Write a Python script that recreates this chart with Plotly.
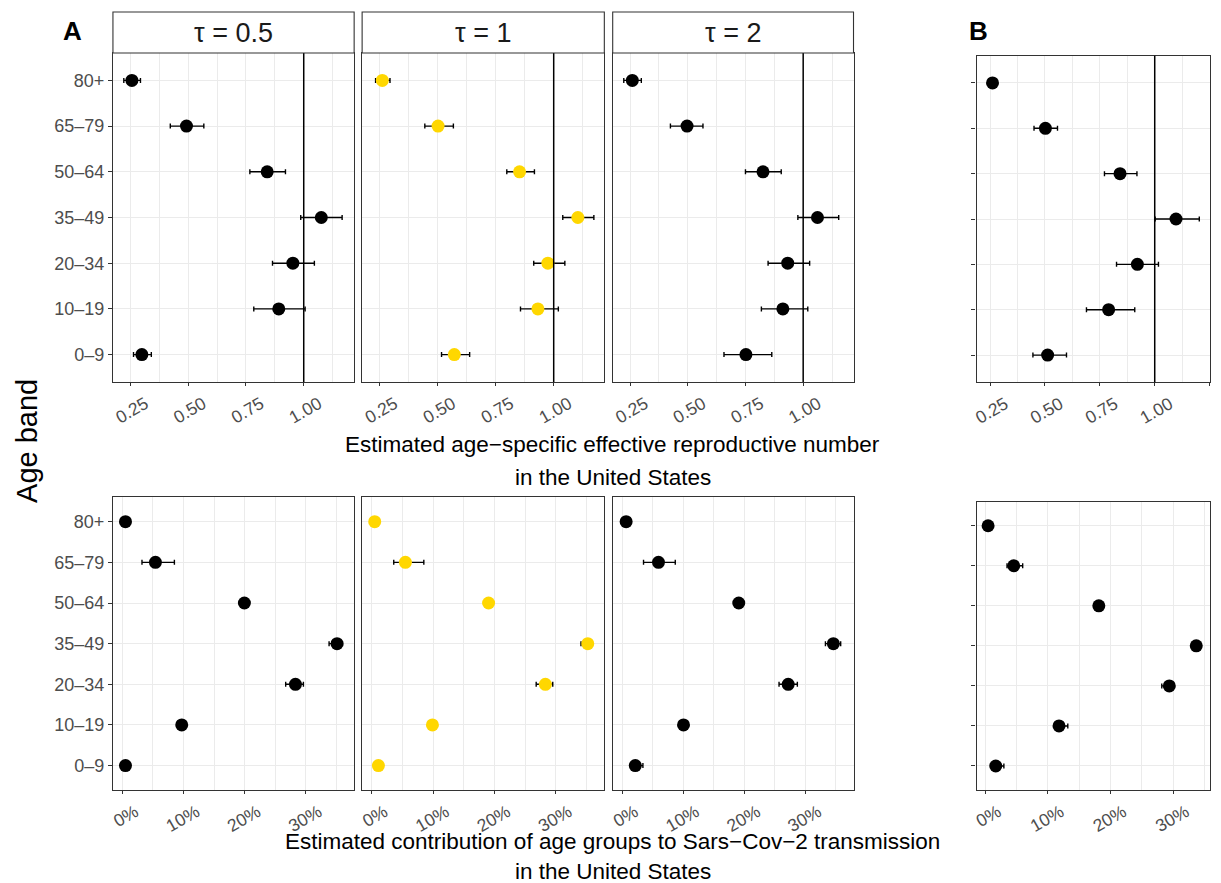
import plotly.graph_objects as go

# ---------------- data ----------------
age_bands = ["0–9", "10–19", "20–34", "35–49", "50–64", "65–79", "80+"]
tau_labels = ["τ = 0.5", "τ = 1", "τ = 2"]

# Panel A, top: age-specific effective reproductive number
tau05_r = [0.300, 0.892, 0.953, 1.076, 0.842, 0.493, 0.257]
tau05_r_lo = [0.264, 0.784, 0.865, 0.987, 0.767, 0.423, 0.222]
tau05_r_hi = [0.341, 1.006, 1.046, 1.166, 0.921, 0.568, 0.294]

tau1_r = [0.572, 0.932, 0.975, 1.104, 0.853, 0.502, 0.262]
tau1_r_lo = [0.517, 0.857, 0.914, 1.039, 0.798, 0.445, 0.233]
tau1_r_hi = [0.638, 1.020, 1.048, 1.173, 0.917, 0.568, 0.295]

tau2_r = [0.752, 0.912, 0.933, 1.062, 0.826, 0.497, 0.260]
tau2_r_lo = [0.657, 0.819, 0.848, 0.977, 0.750, 0.425, 0.223]
tau2_r_hi = [0.864, 1.020, 1.028, 1.154, 0.905, 0.566, 0.299]

# Panel B, top
b_r = [0.512, 0.790, 0.921, 1.097, 0.842, 0.502, 0.261]
b_r_lo = [0.445, 0.689, 0.826, 1.002, 0.771, 0.450, 0.250]
b_r_hi = [0.598, 0.909, 1.017, 1.203, 0.919, 0.557, 0.270]

# Bottom: contribution to transmission (%)
tau05_c = [0.5, 9.7, 28.3, 35.1, 19.95, 5.4, 0.5]
tau05_c_lo = [0.3, 9.5, 26.7, 33.8, 19.8, 3.2, 0.3]
tau05_c_hi = [0.7, 9.9, 29.6, 36.0, 20.1, 8.5, 0.7]

tau1_c = [1.1, 9.9, 28.3, 35.2, 19.05, 5.5, 0.5]
tau1_c_lo = [0.9, 9.7, 26.8, 34.1, 18.9, 3.6, 0.3]
tau1_c_hi = [1.3, 10.1, 29.5, 35.6, 19.2, 8.5, 0.7]

tau2_c = [2.15, 10.05, 27.2, 34.6, 19.1, 5.95, 0.65]
tau2_c_lo = [1.5, 9.9, 25.7, 33.3, 18.9, 3.5, 0.45]
tau2_c_hi = [3.4, 10.2, 28.7, 35.8, 19.3, 8.7, 0.85]

b_c = [1.7, 11.8, 29.4, 33.7, 18.15, 4.57, 0.48]
b_c_lo = [1.1, 11.3, 28.2, 33.5, 18.0, 3.5, 0.4]
b_c_hi = [3.0, 13.2, 29.8, 33.9, 18.3, 6.0, 0.55]

r_ticks = [0.25, 0.50, 0.75, 1.00, 1.25]
r_ticktext = ["0.25", "0.50", "0.75", "1.00", "1.25"]
c_ticks = [0, 10, 20, 30]
c_ticktext = ["0%", "10%", "20%", "30%"]

# ---------------- layout geometry ----------------
W, H = 1221, 883
FONT = "Liberation Sans, Arial, sans-serif"
BLACK = "#000000"
GOLD = "#FFD700"
GRID = "#EBEBEB"
BORDER = "#333333"
TICKCOL = "#4D4D4D"


def xd(a, b):
    return [a / W, b / W]


def yd(top, bot):
    return [1 - bot / H, 1 - top / H]


col_px = [(109.3, 351.3), (359.3, 602.3), (610.7, 852.3), (975.7, 1210.0)]
top_px = [(53, 382), (53, 382), (53, 382), (55.7, 382.3)]
bot_px = [(497.3, 790), (497.3, 790), (497.3, 790), (501.7, 790)]

panels = [
    # (values, lo, hi, color, row)
    (tau05_r, tau05_r_lo, tau05_r_hi, BLACK, "top"),
    (tau1_r, tau1_r_lo, tau1_r_hi, GOLD, "top"),
    (tau2_r, tau2_r_lo, tau2_r_hi, BLACK, "top"),
    (b_r, b_r_lo, b_r_hi, BLACK, "top"),
    (tau05_c, tau05_c_lo, tau05_c_hi, BLACK, "bot"),
    (tau1_c, tau1_c_lo, tau1_c_hi, GOLD, "bot"),
    (tau2_c, tau2_c_lo, tau2_c_hi, BLACK, "bot"),
    (b_c, b_c_lo, b_c_hi, BLACK, "bot"),
]

fig = go.Figure()
layout = dict(
    width=W, height=H, margin=dict(l=0, r=0, t=0, b=0),
    paper_bgcolor="white", plot_bgcolor="white",
    showlegend=False, font=dict(family=FONT, color="black"),
)

shapes = []
annotations = []

for i, (vals, lo, hi, color, row) in enumerate(panels):
    n = i + 1
    sfx = "" if n == 1 else str(n)
    col = i % 4
    fig.add_trace(go.Scatter(
        x=vals, y=age_bands, mode="markers",
        xaxis=f"x{sfx}", yaxis=f"y{sfx}",
        marker=dict(size=13, color=color, line=dict(width=0)),
        error_x=dict(type="data", symmetric=False,
                     array=[h - v for h, v in zip(hi, vals)],
                     arrayminus=[v - l for v, l in zip(vals, lo)],
                     color="black", thickness=1.4, width=2.5),
        cliponaxis=False,
    ))
    xa = dict(
        domain=xd(*col_px[col]), anchor=f"y{sfx}",
        showline=True, mirror=True, linecolor=BORDER, linewidth=1.1,
        showgrid=True, gridcolor=GRID, gridwidth=1.1, zeroline=False,
        ticks="outside", ticklen=3, tickcolor=BORDER, tickwidth=1,
        tickangle=-30, tickfont=dict(family=FONT, size=17.5, color=TICKCOL),
        ticklabelshift=15, ticklabelstandoff=1,
    )
    if row == "top":
        xa.update(range=[0.188, 1.252] if col == 3 else [0.175, 1.218],
                  tickvals=r_ticks, ticktext=r_ticktext,
                  minor=dict(tickvals=[0.125, 0.375, 0.625, 0.875, 1.125],
                             showgrid=True, gridcolor=GRID, gridwidth=0.6, ticks=""))
        ydom = yd(*top_px[col])
    else:
        xa.update(range=[-1.37, 35.9] if col == 3 else [-1.55, 37.9],
                  tickvals=c_ticks, ticktext=c_ticktext,
                  minor=dict(tickvals=[5, 15, 25, 35],
                             showgrid=True, gridcolor=GRID, gridwidth=0.6, ticks=""),
                  ticklabelshift=13)
        ydom = yd(*bot_px[col])
    ya = dict(
        domain=ydom, anchor=f"x{sfx}",
        type="category", categoryorder="array", categoryarray=age_bands,
        range=[-0.6, 6.6],
        showline=True, mirror=True, linecolor=BORDER, linewidth=1.1,
        showgrid=True, gridcolor=GRID, gridwidth=1.1, zeroline=False,
        tickfont=dict(family=FONT, size=18, color=TICKCOL),
    )
    if col == 0:
        ya.update(ticks="outside", ticklen=4, tickcolor=BORDER, showticklabels=True)
    elif col == 3:
        ya.update(ticks="outside", ticklen=4, tickcolor=BORDER, showticklabels=False)
    else:
        ya.update(ticks="", showticklabels=False)
    layout[f"xaxis{sfx}"] = xa
    layout[f"yaxis{sfx}"] = ya

    if row == "top":
        shapes.append(dict(type="line", xref=f"x{sfx}", yref=f"y{sfx} domain",
                           x0=1.0, x1=1.0, y0=0, y1=1, layer="above",
                           line=dict(color="black", width=1.5)))

# facet strips
for j in range(3):
    a, b = col_px[j]
    shapes.append(dict(type="rect", xref="paper", yref="paper",
                       x0=a / W, x1=b / W, y0=1 - 53 / H, y1=1 - 12 / H,
                       fillcolor="white", line=dict(color=BORDER, width=1.1)))
    annotations.append(dict(text=tau_labels[j], xref="paper", yref="paper",
                            x=(a + b) / 2 / W, y=1 - 33 / H, showarrow=False,
                            xanchor="center", yanchor="middle",
                            font=dict(family=FONT, size=27, color="#1A1A1A")))

# titles
title_font = dict(family=FONT, size=22.5, color="black")
annotations += [
    dict(text="Estimated age−specific effective reproductive number",
         x=611 / W, y=1 - 444 / H, xref="paper", yref="paper", showarrow=False,
         xanchor="center", yanchor="middle", font=title_font),
    dict(text="in the United States",
         x=611 / W, y=1 - 477 / H, xref="paper", yref="paper", showarrow=False,
         xanchor="center", yanchor="middle", font=title_font),
    dict(text="Estimated contribution of age groups to Sars−Cov−2 transmission",
         x=611 / W, y=1 - 841 / H, xref="paper", yref="paper", showarrow=False,
         xanchor="center", yanchor="middle", font=title_font),
    dict(text="in the United States",
         x=611 / W, y=1 - 871 / H, xref="paper", yref="paper", showarrow=False,
         xanchor="center", yanchor="middle", font=title_font),
    dict(text="Age band", x=23 / W, y=1 - 441 / H, xref="paper", yref="paper",
         showarrow=False, textangle=-90, xanchor="center", yanchor="middle",
         font=dict(family=FONT, size=29, color="black")),
    dict(text="<b>A</b>", x=69 / W, y=1 - 31 / H, xref="paper", yref="paper",
         showarrow=False, xanchor="center", yanchor="middle",
         font=dict(family=FONT, size=26, color="black")),
    dict(text="<b>B</b>", x=978 / W, y=1 - 31 / H, xref="paper", yref="paper",
         showarrow=False, xanchor="center", yanchor="middle",
         font=dict(family=FONT, size=26, color="black")),
]

layout["shapes"] = shapes
layout["annotations"] = annotations
fig.update_layout(**layout)
fig.write_html("out.html", config={"displayModeBar": False},
               post_script="document.body.style.margin='0px';document.body.style.padding='0px';")
